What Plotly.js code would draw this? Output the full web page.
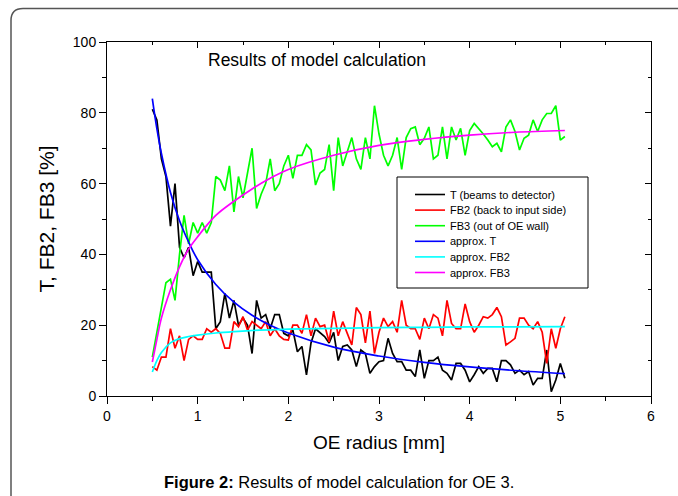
<!DOCTYPE html>
<html>
<head>
<meta charset="utf-8">
<script src="https://cdn.plot.ly/plotly-3.0.1.min.js"></script>
<style>html,body{margin:0;padding:0;background:#fff;}#chart{width:678px;height:496px;}</style>
</head>
<body>
<div id="chart"></div>
<script>
// ---- data ----
const radius = [0.5,0.55,0.6,0.65,0.7,0.75,0.8,0.85,0.9,0.95,
  1,1.05,1.1,1.15,1.2,1.25,1.3,1.35,1.4,1.45,
  1.5,1.55,1.6,1.65,1.7,1.75,1.8,1.85,1.9,1.95,
  2,2.05,2.1,2.15,2.2,2.25,2.3,2.35,2.4,2.45,
  2.5,2.55,2.6,2.65,2.7,2.75,2.8,2.85,2.9,2.95,
  3,3.05,3.1,3.15,3.2,3.25,3.3,3.35,3.4,3.45,
  3.5,3.55,3.6,3.65,3.7,3.75,3.8,3.85,3.9,3.95,
  4,4.05,4.1,4.15,4.2,4.25,4.3,4.35,4.4,4.45,
  4.5,4.55,4.6,4.65,4.7,4.75,4.8,4.85,4.9,4.95,
  5,5.05];
const T = [81,78,67,62,48,60,42,39,42,34, 38,35,35,35,19,21,29,22,27,20, 22,20,12,27,22,23,19,23,
  23,17.7,17,18.6,12.5,14,6,15,19,18, 16.8,15,18,10,14,14.4,13,8.3,13,12, 6.4,8.3,9.7,10,16.3,12,9.7,9.7,7.3,7.3, 5.5,13,
  5,10,10,11,7.3,6.4,4.5,9.2,9.2,7.3, 4,6,8.3,6.4,7.8,7.8,4,10,10,8.8, 6.4,7.3,6,6.9,3.1,5,5,13,1.2,4.5, 9.2,5];
const FB2 = [8.3,7.3,11,11,19,13.5,17,10,16,17, 16,16,19,18,19,17.7,13.5,13.5,21,19.6, 22.4,18.6,21,20,19,21,17,19,
  17,16,15.8,20,20,17.7,23,17,22,19.6, 20,15.3,24,17,21,17.7,14.4,25,23,15, 24,12,18,22,19.6,21,18,27,20,19, 19,16,
  22,19,23,22,17,27,20.5,19,19,26, 21,18,20,22.4,22,23,25,22.4,14.4,15.3, 16.3,22,22,20,19,21,18,9.2,19,13.5, 19,22.4];
const FB3 = [11,18,25,32,33,27,40,51,43,49, 46,49,46,49,62,61,58,65,52,62, 56,63,70,53,57,60,67,58,
  60,65,68,61.5,68,68,71,69.5,59.6,63, 64,71,58,73,65,69,73,67,64,73, 67,82,74,68,65,68,73,64,73,75.5, 76,71,
  72.8,76,67,68,76,67,76,72.3,75.6,68, 75,77,75.6,74,72.3,70.4,71.4,69,76,78, 74.7,69.5,72.8,73.7,78,74.7,78,79.8,79.8,82, 72.3,73.3];
const approxRadius = [0.5,0.55,0.6,0.7,0.8,0.9,1.0,1.2,1.4,1.6,1.8,2.0,2.5,3.0,3.5,4.0,4.5,5.05];
const approxT   = [84,75.5,68.5,57.5,49.5,43.5,38.5,31.5,26.5,22.8,20,17.8,13.8,11.3,9.5,8.2,7.2,6.3];
const approxFB2 = [6.8,10,12.3,15,16.2,16.8,17.2,17.8,18.2,18.5,18.7,18.9,19.1,19.3,19.4,19.5,19.5,19.6];
const approxFB3 = [9.6,16,22,30,36.5,41.5,45,51,55,58.5,61.5,64,68,70.8,72.5,73.7,74.5,75];
const seriesNames = ['T (beams to detector)','FB2 (back to input side)','FB3 (out of OE wall)','approx. T','approx. FB2','approx. FB3'];
const seriesColors = ['#000000','#ff0000','#00ff00','#0000ff','#00ffff','#ff00ff'];
const xTickVals = [0,1,2,3,4,5,6];
const yTickVals = [0,20,40,60,80,100];

// ---- chart ----
const FONT = 'Liberation Sans, Arial, sans-serif';
const ys = [T, FB2, FB3];
const aps = [approxT, approxFB2, approxFB3];
const traces = [];
for (let i = 0; i < 3; i++) {
  traces.push({x: radius, y: ys[i], type: 'scatter', mode: 'lines', name: seriesNames[i],
    line: {color: seriesColors[i], width: 1.7}, showlegend: false});
}
for (let i = 0; i < 3; i++) {
  traces.push({x: approxRadius, y: aps[i], type: 'scatter', mode: 'lines', name: seriesNames[i+3],
    line: {color: seriesColors[i+3], width: 1.7, shape: 'spline', smoothing: 1}, showlegend: false});
}
// empty trace that registers the mirror (inside-tick) axes
traces.push({x: [], y: [], xaxis: 'x2', yaxis: 'y2', type: 'scatter', mode: 'lines', showlegend: false, hoverinfo: 'skip'});

const L = 107, R = 27, TOP = 42, B = 100, W = 678, H = 496;
const pw = W - L - R, ph = H - TOP - B;
const px = v => (v - L) / pw;       // pixel -> paper x
const py = v => (H - B - v) / ph;   // pixel -> paper y

const shapes = [];
const annotations = [];
// outer rounded frame (figure box)
const fx0 = px(11), fyt = py(8.5), fyb = py(530), fxr = px(700), rx = 12 / pw, ry = 12 / ph;
shapes.push({type: 'path', xref: 'paper', yref: 'paper',
  path: `M ${fx0},${fyb} L ${fx0},${fyt - ry} Q ${fx0},${fyt} ${fx0 + rx},${fyt} L ${fxr},${fyt}`,
  line: {color: '#555555', width: 1.5}});
// legend box
shapes.push({type: 'rect', xref: 'paper', yref: 'paper', x0: px(397), x1: px(588), y0: py(288), y1: py(177),
  line: {color: '#000000', width: 1}, fillcolor: 'rgba(255,255,255,0)'});
for (let i = 0; i < seriesNames.length; i++) {
  const yy = py(194.5 + 15.6 * i);
  shapes.push({type: 'line', xref: 'paper', yref: 'paper', x0: px(415), x1: px(445), y0: yy, y1: yy,
    line: {color: seriesColors[i], width: 1.6}});
  annotations.push({xref: 'paper', yref: 'paper', x: px(448), y: yy, xanchor: 'left', yanchor: 'middle',
    text: seriesNames[i], showarrow: false, font: {family: FONT, size: 11, color: '#000'}});
}
annotations.push({xref: 'paper', yref: 'paper', x: px(206), y: py(60), xanchor: 'left', yanchor: 'middle',
  text: 'Results of model calculation', showarrow: false, font: {family: FONT, size: 17.5, color: '#000'}});
annotations.push({xref: 'paper', yref: 'paper', x: px(339), y: py(482), xanchor: 'center', yanchor: 'middle',
  text: '<b>Figure 2:</b> Results of model calculation for OE 3.', showarrow: false,
  font: {family: FONT, size: 16.5, color: '#000'}});

const baseAx = {showgrid: false, zeroline: false, showline: true, linecolor: '#000', linewidth: 1,
  tickcolor: '#000', tickwidth: 1, fixedrange: true};
const layout = {
  width: W, height: H,
  margin: {l: L, r: R, t: TOP, b: B, pad: 0},
  paper_bgcolor: '#ffffff', plot_bgcolor: '#ffffff',
  font: {family: FONT, color: '#000'},
  showlegend: false,
  xaxis: Object.assign({}, baseAx, {range: [0, 6], tickvals: xTickVals, ticks: 'outside', ticklen: 7,
    mirror: true, tickfont: {size: 14, family: FONT},
    minor: {dtick: 0.5, tick0: 0, ticks: 'outside', ticklen: 4, tickcolor: '#000'},
    title: {text: 'OE radius [mm]', font: {size: 19, family: FONT}, standoff: 12}}),
  yaxis: Object.assign({}, baseAx, {range: [0, 100], tickvals: yTickVals, ticks: 'outside', ticklen: 7,
    mirror: true, tickfont: {size: 14, family: FONT},
    minor: {dtick: 10, tick0: 0, ticks: 'outside', ticklen: 4, tickcolor: '#000'},
    title: {text: 'T, FB2, FB3 [%]', font: {size: 21, family: FONT}, standoff: 12}}),
  xaxis2: Object.assign({}, baseAx, {overlaying: 'x', side: 'top', anchor: 'y', range: [0, 6], tickvals: xTickVals,
    ticks: 'inside', ticklen: 6, showticklabels: false,
    minor: {dtick: 0.5, tick0: 0, ticks: 'inside', ticklen: 3, tickcolor: '#000'}}),
  yaxis2: Object.assign({}, baseAx, {overlaying: 'y', side: 'right', anchor: 'x', range: [0, 100], tickvals: yTickVals,
    ticks: 'inside', ticklen: 6, showticklabels: false,
    minor: {dtick: 10, tick0: 0, ticks: 'inside', ticklen: 3, tickcolor: '#000'}}),
  shapes: shapes,
  annotations: annotations
};
Plotly.newPlot('chart', traces, layout, {displayModeBar: false, staticPlot: true});
</script>
</body>
</html>
